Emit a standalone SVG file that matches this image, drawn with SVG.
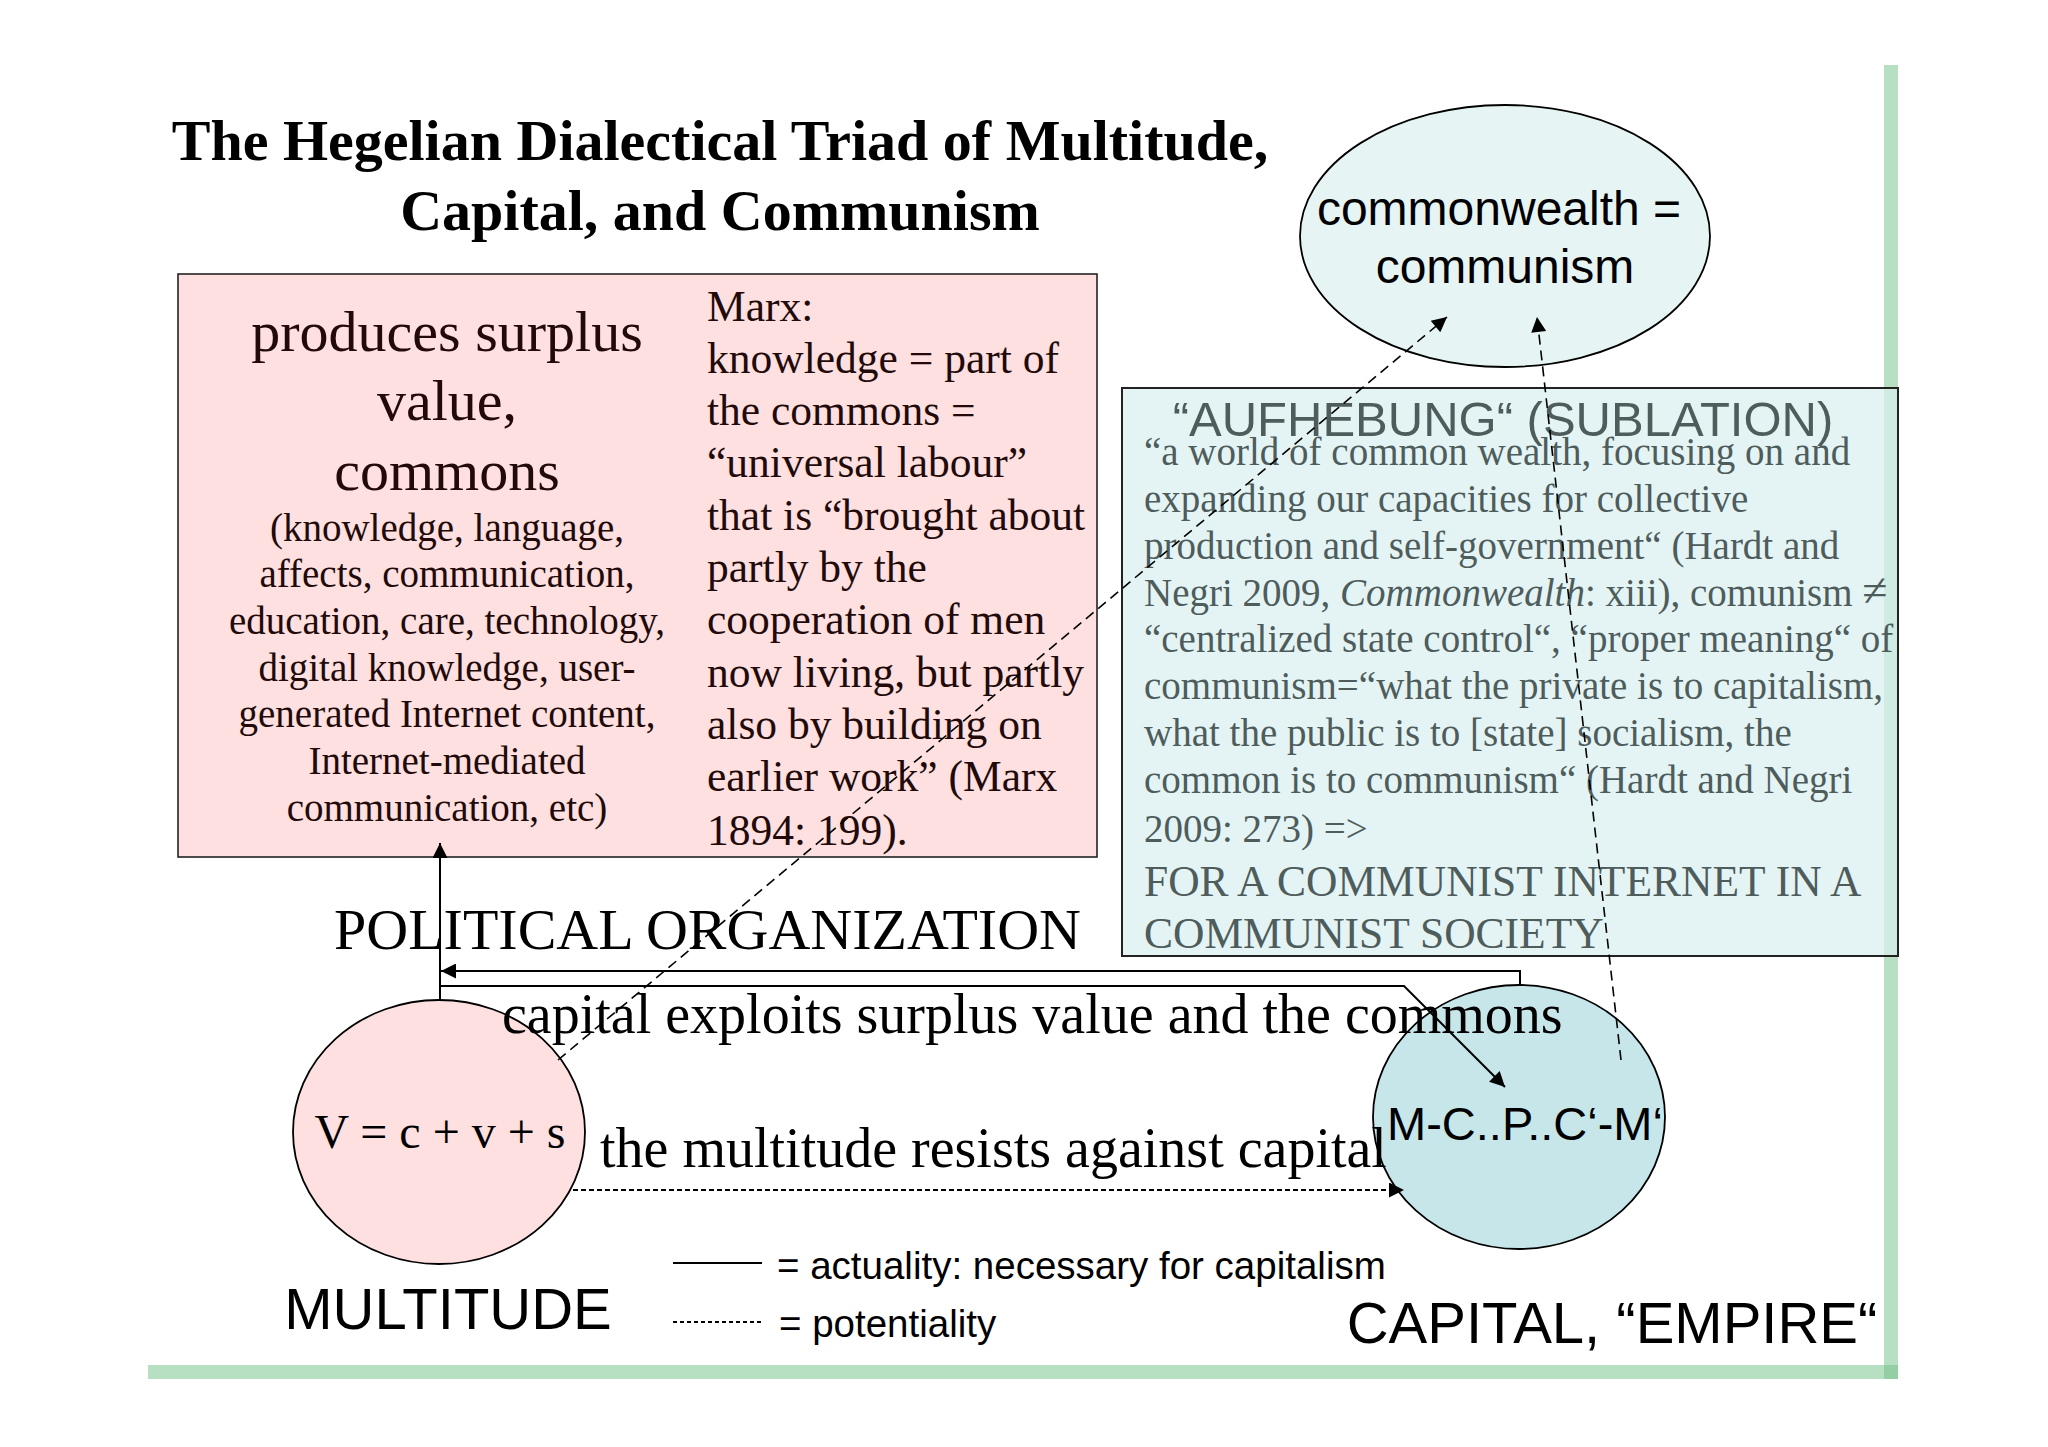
<svg xmlns="http://www.w3.org/2000/svg" width="2048" height="1447" viewBox="0 0 2048 1447">
<style>
.serif{font-family:"Liberation Serif","Times New Roman",serif}
.sans{font-family:"Liberation Sans",Arial,sans-serif}
.pk{fill:#220a0a}
.tl{fill:#4e5c5c}
.line{fill:none;stroke:#000;stroke-width:2}
.dash{fill:none;stroke:#000;stroke-width:1.6;stroke-dasharray:10 6}
.dash2{fill:none;stroke:#000;stroke-width:2;stroke-dasharray:5 3}
</style>
<defs>
<marker id="ah" viewBox="0 0 10 10" refX="10" refY="5" markerWidth="22" markerHeight="15" markerUnits="userSpaceOnUse" orient="auto">
<path d="M0,0 L10,5 L0,10 z" fill="#000"/>
</marker>
</defs>
<rect width="2048" height="1447" fill="#fff"/>

<g id="frame">
<rect x="1884" y="65" width="14" height="1313" fill="#b7e0c3"/>
<rect x="148" y="1365" width="1750" height="14" fill="#b7e0c3"/>
<rect x="1884" y="1365" width="14" height="14" fill="#93cfa3"/>
</g>

<g id="title">
<text class="serif" font-weight="bold" font-size="58" text-anchor="middle" x="720" y="160">The Hegelian Dialectical Triad of Multitude,</text>
<text class="serif" font-weight="bold" font-size="58" text-anchor="middle" x="720" y="230">Capital, and Communism</text>
</g>

<g id="commons-box">
<rect x="178" y="274" width="919" height="583" fill="#fde0df" stroke="#222" stroke-width="1.6"/>
<g class="serif pk" text-anchor="middle">
<text font-size="58" x="447" y="351">produces surplus</text>
<text font-size="58" x="447" y="420">value,</text>
<text font-size="58" x="447" y="490">commons</text>
<text font-size="39" x="447" y="541">(knowledge, language,</text>
<text font-size="39" x="447" y="587">affects, communication,</text>
<text font-size="39" x="447" y="634">education, care, technology,</text>
<text font-size="39" x="447" y="681">digital knowledge, user-</text>
<text font-size="39" x="447" y="727">generated Internet content,</text>
<text font-size="39" x="447" y="774">Internet-mediated</text>
<text font-size="39" x="447" y="821">communication, etc)</text>
</g>
<g class="serif pk" font-size="43.5">
<text x="707" y="321">Marx:</text>
<text x="707" y="373">knowledge = part of</text>
<text x="707" y="425">the commons =</text>
<text x="707" y="477">“universal labour”</text>
<text x="707" y="530">that is “brought about</text>
<text x="707" y="582">partly by the</text>
<text x="707" y="634">cooperation of men</text>
<text x="707" y="687">now living, but partly</text>
<text x="707" y="739">also by building on</text>
<text x="707" y="791">earlier work” (Marx</text>
<text x="707" y="845">1894: 199).</text>
</g>
</g>

<g id="sublation-box">
<rect x="1122" y="388" width="776" height="568" fill="#d9efef" fill-opacity="0.7" stroke="#222" stroke-width="2"/>
<text class="sans tl" font-size="49" text-anchor="middle" x="1503" y="436">“AUFHEBUNG“ (SUBLATION)</text>
<g class="serif tl" font-size="39">
<text x="1144" y="465">“a world of common wealth, focusing on and</text>
<text x="1144" y="512">expanding our capacities for collective</text>
<text x="1144" y="559">production and self-government“ (Hardt and</text>
<text x="1144" y="606">Negri 2009, <tspan font-style="italic">Commonwealth</tspan>: xiii), comunism <tspan font-size="46">≠</tspan></text>
<text x="1144" y="652">“centralized state control“, “proper meaning“ of</text>
<text x="1144" y="699">communism=“what the private is to capitalism,</text>
<text x="1144" y="746">what the public is to [state] socialism, the</text>
<text x="1144" y="793">common is to communism“ (Hardt and Negri</text>
<text x="1144" y="842">2009: 273) =&gt;</text>
<text x="1144" y="896" font-size="43.5">FOR A COMMUNIST INTERNET IN A</text>
<text x="1144" y="948" font-size="43.5">COMMUNIST SOCIETY</text>
</g>
</g>

<g id="commonwealth">
<ellipse cx="1505" cy="236" rx="205" ry="131" fill="#e6f4f4" stroke="#000" stroke-width="1.8"/>
<text class="sans" font-size="48" text-anchor="middle" x="1499" y="225">commonwealth =</text>
<text class="sans" font-size="48" text-anchor="middle" x="1505" y="283">communism</text>
</g>

<g id="multitude">
<ellipse cx="439" cy="1132" rx="146" ry="132" fill="#fde0df" stroke="#000" stroke-width="1.8"/>
<text class="serif" font-size="48" text-anchor="middle" x="440" y="1148">V = c + v + s</text>
<text class="sans" font-size="58" text-anchor="middle" x="448" y="1329">MULTITUDE</text>
</g>

<g id="capital">
<ellipse cx="1519" cy="1117" rx="146" ry="132" fill="#c6e6e9" stroke="#000" stroke-width="1.8"/>
<text class="sans" font-size="47" text-anchor="middle" x="1525" y="1140">M-C..P..C‘-M‘</text>
<text class="sans" font-size="58" text-anchor="middle" x="1612" y="1343">CAPITAL, “EMPIRE“</text>
</g>

<g id="connectors">
<path class="line" d="M440,1000 V843" marker-end="url(#ah)"/>
<path class="line" d="M1520,985 V971 H441" marker-end="url(#ah)"/>
<path class="line" d="M440,986 H1404 L1505,1087" marker-end="url(#ah)"/>
<path class="dash2" d="M573,1190 H1404" marker-end="url(#ah)"/>
<path class="dash" d="M558,1060 L1447,317" marker-end="url(#ah)"/>
<path class="dash" d="M1621,1060 L1537,317" marker-end="url(#ah)"/>
</g>

<g id="edge-labels">
<text class="serif" font-size="58" x="334" y="949">POLITICAL ORGANIZATION</text>
<text class="serif" font-size="56" x="502" y="1033">capital exploits surplus value and the commons</text>
<text class="serif" font-size="56" x="600" y="1167">the multitude resists against capital</text>
</g>

<g id="legend">
<line x1="673" y1="1263" x2="762" y2="1263" stroke="#000" stroke-width="2"/>
<line x1="673" y1="1322" x2="762" y2="1322" stroke="#000" stroke-width="2" stroke-dasharray="4 3"/>
<text class="sans" font-size="38.5" x="777" y="1279">= actuality: necessary for capitalism</text>
<text class="sans" font-size="38.5" x="779" y="1337">= potentiality</text>
</g>
</svg>
